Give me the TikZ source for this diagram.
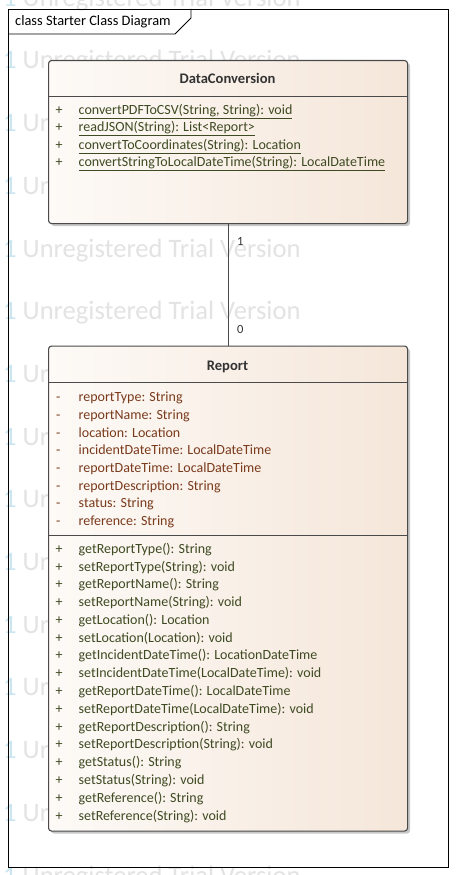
\documentclass[tikz,border=0pt]{standalone}
\usepackage{fontspec}
\setmainfont{Carlito}
\usetikzlibrary{shadows}
\definecolor{boxline}{HTML}{4A4A4A}
\definecolor{boxL}{HTML}{FDFAF7}
\definecolor{boxR}{HTML}{F5E6D9}
\definecolor{opcol}{HTML}{3E4A22}
\definecolor{attcol}{HTML}{7A3A1C}
\definecolor{titcol}{HTML}{333333}
\definecolor{wmgray}{HTML}{E3E3E3}
\definecolor{wmone}{HTML}{CBE6F0}
\tikzset{
  wm/.style={font=\fontsize{26.6}{30}\selectfont, text=wmgray, anchor=base west, inner sep=0},
  classbox/.style={draw=boxline, line width=1.1pt, rounded corners=3pt,
    left color=boxL, right color=boxR, inner sep=0, anchor=north west,
    drop shadow={shadow xshift=2.5pt, shadow yshift=-2.5pt, fill=black, opacity=0.22}},
  sepline/.style={draw=boxline, line width=1pt},
  member/.style={font=\fontsize{14}{16}\selectfont, anchor=base west, inner sep=0},
  ctitle/.style={font=\fontsize{14.6}{17}\bfseries\selectfont, text=titcol, anchor=base, inner sep=0},
  mult/.style={font=\fontsize{12.5}{14}\selectfont, text=titcol, anchor=base west, inner sep=0},
  frame/.style={draw=black, line width=0.9pt},
  assoc/.style={draw=boxline, line width=1pt}
}
\begin{document}
\begin{tikzpicture}[x=1pt,y=-1pt]
\useasboundingbox (0,0) rectangle (456,875);
\clip (0,0) rectangle (456,875);
\fill[white] (0,0) rectangle (456,875);
% watermarks (full rows where visible, only the visible start where a class box hides the rest)
\foreach \yy [count=\i] in {6.2,68.9,257,319.7,884}
  \node[wm] (wmf\i) at (3,\yy) {\textcolor{wmone}{1} Unregistered Trial Version};
\foreach \yy [count=\i] in {131.6,194.3,382.4,445.1,507.8,570.5,633.2,695.9,758.6,821.3}
  \node[wm] (wmp\i) at (3,\yy) {\textcolor{wmone}{1} Ur};
% frame
\draw[frame] (8,9) rectangle (448,867);
\draw[frame] (8,34) -- (175,34) -- (191,18) -- (191,9);
\node[font=\fontsize{14.4}{16}\selectfont, anchor=base west, inner sep=0] (ftitle) at (15,25.5) {class Starter Class Diagram};
% DataConversion
\node[classbox, minimum width=359pt, minimum height=163pt] (dc) at (48,60) {};
\node[ctitle] (dct) at (227.5,83.3) {DataConversion};
\draw[sepline] (48,96.7) -- (407,96.7);
\foreach \t [count=\i from 0] in {{convertPDFToCSV(String, String): void},{readJSON(String): List<Report>},{convertToCoordinates(String): Location},{convertStringToLocalDateTime(String): LocalDateTime}}{
  \node[member, text=opcol] (dcp\i) at (55.5,{114+17.55*\i}) {+};
  \node[member, text=opcol] (dco\i) at (78.5,{114+17.55*\i}) {\underline{\t}};
}
% Report
\node[classbox, minimum width=359pt, minimum height=485pt] (rp) at (48,345.5) {};
\node[ctitle] (rpt) at (227.5,370.7) {Report};
\draw[sepline] (48,382.3) -- (407,382.3);
\draw[sepline] (48,535) -- (407,535);
\foreach \t [count=\i from 0] in {{reportType: String},{reportName: String},{location: Location},{incidentDateTime: LocalDateTime},{reportDateTime: LocalDateTime},{reportDescription: String},{status: String},{reference: String}}{
  \node[member, text=attcol] (rpm\i) at (56,{401.7+17.7*\i}) {-};
  \node[member, text=attcol] (rpa\i) at (78.5,{401.7+17.7*\i}) {\t};
}
\foreach \t [count=\i from 0] in {{getReportType(): String},{setReportType(String): void},{getReportName(): String},{setReportName(String): void},{getLocation(): Location},{setLocation(Location): void},{getIncidentDateTime(): LocationDateTime},{setIncidentDateTime(LocalDateTime): void},{getReportDateTime(): LocalDateTime},{setReportDateTime(LocalDateTime): void},{getReportDescription(): String},{setReportDescription(String): void},{getStatus(): String},{setStatus(String): void},{getReference(): String},{setReference(String): void}}{
  \node[member, text=opcol] (rpp\i) at (55.5,{553.3+17.78*\i}) {+};
  \node[member, text=opcol] (rpo\i) at (78.5,{553.3+17.78*\i}) {\t};
}
% association
\draw[assoc] (dc.south) -- (rp.north);
\node[mult] (m1) at (237,245.5) {1};
\node[mult] (m0) at (237,333.5) {0};
\end{tikzpicture}
\end{document}
